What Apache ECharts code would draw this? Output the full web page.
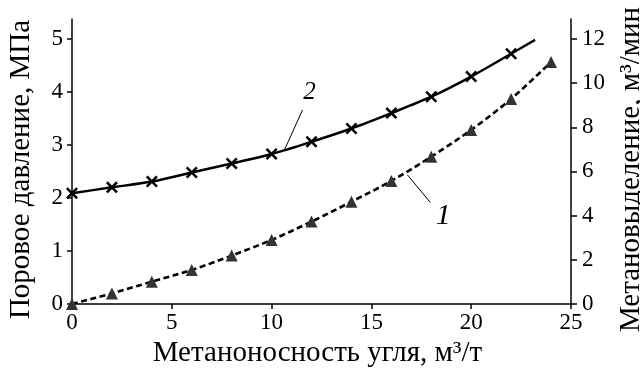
<!DOCTYPE html>
<html>
<head>
<meta charset="utf-8">
<script src="https://cdn.jsdelivr.net/npm/echarts@6/dist/echarts.min.js"></script>
<style>
  html, body { margin: 0; background: #fff; }
  #chart { width: 640px; height: 371px; }
</style>
</head>
<body>
<div id="chart"></div>
<script>
// метаноносность угля (ось X), м3/т
const pressureX = [0, 2, 4, 6, 8, 10, 12, 14, 16, 18, 20, 22, 23.2];
// кривая 2 — поровое давление, МПа (левая ось)
const pressure = [2.09, 2.20, 2.31, 2.48, 2.65, 2.83, 3.06, 3.31, 3.60, 3.91, 4.29, 4.72, 4.98];

const methaneX = [0, 2, 4, 6, 8, 10, 12, 14, 16, 18, 20, 22, 24];
// кривая 1 — метановыделение, м3/мин (правая ось)
const methane = [0, 0.48, 1.01, 1.54, 2.19, 2.9, 3.73, 4.63, 5.57, 6.67, 7.88, 9.28, 10.95];

const xTicks = [0, 5, 10, 15, 20, 25];
const pressureTicks = [0, 1, 2, 3, 4, 5];
const methaneTicks = [0, 2, 4, 6, 8, 10, 12];

const font = 'Liberation Serif';
const crossPath = 'path://M0,1.5L1.5,0L5,3.5L8.5,0L10,1.5L6.5,5L10,8.5L8.5,10L5,6.5L1.5,10L0,8.5L3.5,5Z';

const chart = echarts.init(document.getElementById('chart'));

const axisCommon = {
  axisLine: { show: true, lineStyle: { color: '#000', width: 1.5 } },
  splitLine: { show: false }
};
const nameStyle = { fontFamily: font, fontSize: 29, color: '#000' };

const option = {
  animation: false,
  grid: { left: 72, right: 69, top: 19, bottom: 67, containLabel: false, outerBoundsMode: 'none' },
  xAxis: Object.assign({}, axisCommon, {
    type: 'value',
    min: 0, max: 25, interval: 5,
    name: 'Метаноносность угля, м³/т',
    nameLocation: 'middle',
    nameGap: 30,
    nameTextStyle: Object.assign({}, nameStyle, { padding: [0, 8, 0, 0] }),
    axisTick: { show: true, length: 5, lineStyle: { color: '#000', width: 1.5 }, customValues: xTicks },
    axisLabel: { color: '#000', fontFamily: font, fontSize: 23, margin: 7, customValues: xTicks }
  }),
  yAxis: [
    Object.assign({}, axisCommon, {
      type: 'value',
      min: 0, max: 5.375,
      name: 'Поровое давление, МПа',
      nameLocation: 'middle',
      nameRotate: 90,
      nameGap: 36,
      nameTextStyle: Object.assign({}, nameStyle, { padding: [0, 16, 0, 0] }),
      axisTick: { show: true, length: 5, lineStyle: { color: '#000', width: 1.5 }, customValues: pressureTicks },
      axisLabel: { color: '#000', fontFamily: font, fontSize: 23, margin: 9, customValues: pressureTicks }
    }),
    Object.assign({}, axisCommon, {
      type: 'value',
      position: 'right',
      min: 0, max: 12.9,
      name: 'Метановыделение, м³/мин',
      nameLocation: 'middle',
      nameRotate: 90,
      nameGap: 46,
      nameTextStyle: Object.assign({}, nameStyle, { padding: [0, 16, 0, 0] }),
      axisTick: { show: true, length: 6, lineStyle: { color: '#000', width: 1.5 }, customValues: methaneTicks },
      axisLabel: { color: '#000', fontFamily: font, fontSize: 23, margin: 11, customValues: methaneTicks }
    })
  ],
  series: [
    {
      name: '2',
      type: 'line',
      yAxisIndex: 0,
      smooth: 0.3,
      data: pressureX.map((x, i) => ({
        value: [x, pressure[i]],
        symbol: i === pressureX.length - 1 ? 'none' : crossPath
      })),
      symbolSize: 12,
      showAllSymbol: true,
      itemStyle: { color: '#000' },
      lineStyle: { color: '#000', width: 2.5 },
      markPoint: {
        symbol: 'circle', symbolSize: 0,
        label: { show: true, formatter: '2', color: '#000', fontFamily: font, fontStyle: 'italic', fontSize: 25 },
        data: [{ coord: [11.9, 3.99] }]
      },
      markLine: {
        symbol: 'none', silent: true,
        label: { show: false },
        lineStyle: { color: '#000', width: 1, type: 'solid' },
        data: [[{ coord: [11.55, 3.66] }, { coord: [10.65, 2.91] }]]
      }
    },
    {
      name: '1',
      type: 'line',
      yAxisIndex: 1,
      smooth: 0.3,
      data: methaneX.map((x, i) => [x, methane[i]]),
      symbol: 'triangle',
      symbolSize: 12,
      showAllSymbol: true,
      itemStyle: { color: '#333' },
      lineStyle: { color: '#000', width: 2.6, type: [6, 3.5] },
      markPoint: {
        symbol: 'circle', symbolSize: 0,
        label: { show: true, formatter: '1', color: '#000', fontFamily: font, fontStyle: 'italic', fontSize: 30 },
        data: [{ coord: [18.6, 4.0] }]
      },
      markLine: {
        symbol: 'none', silent: true,
        label: { show: false },
        lineStyle: { color: '#000', width: 1, type: 'solid' },
        data: [[{ coord: [16.8, 5.85] }, { coord: [17.95, 4.6] }]]
      }
    }
  ]
};

chart.setOption(option);
</script>
</body>
</html>
